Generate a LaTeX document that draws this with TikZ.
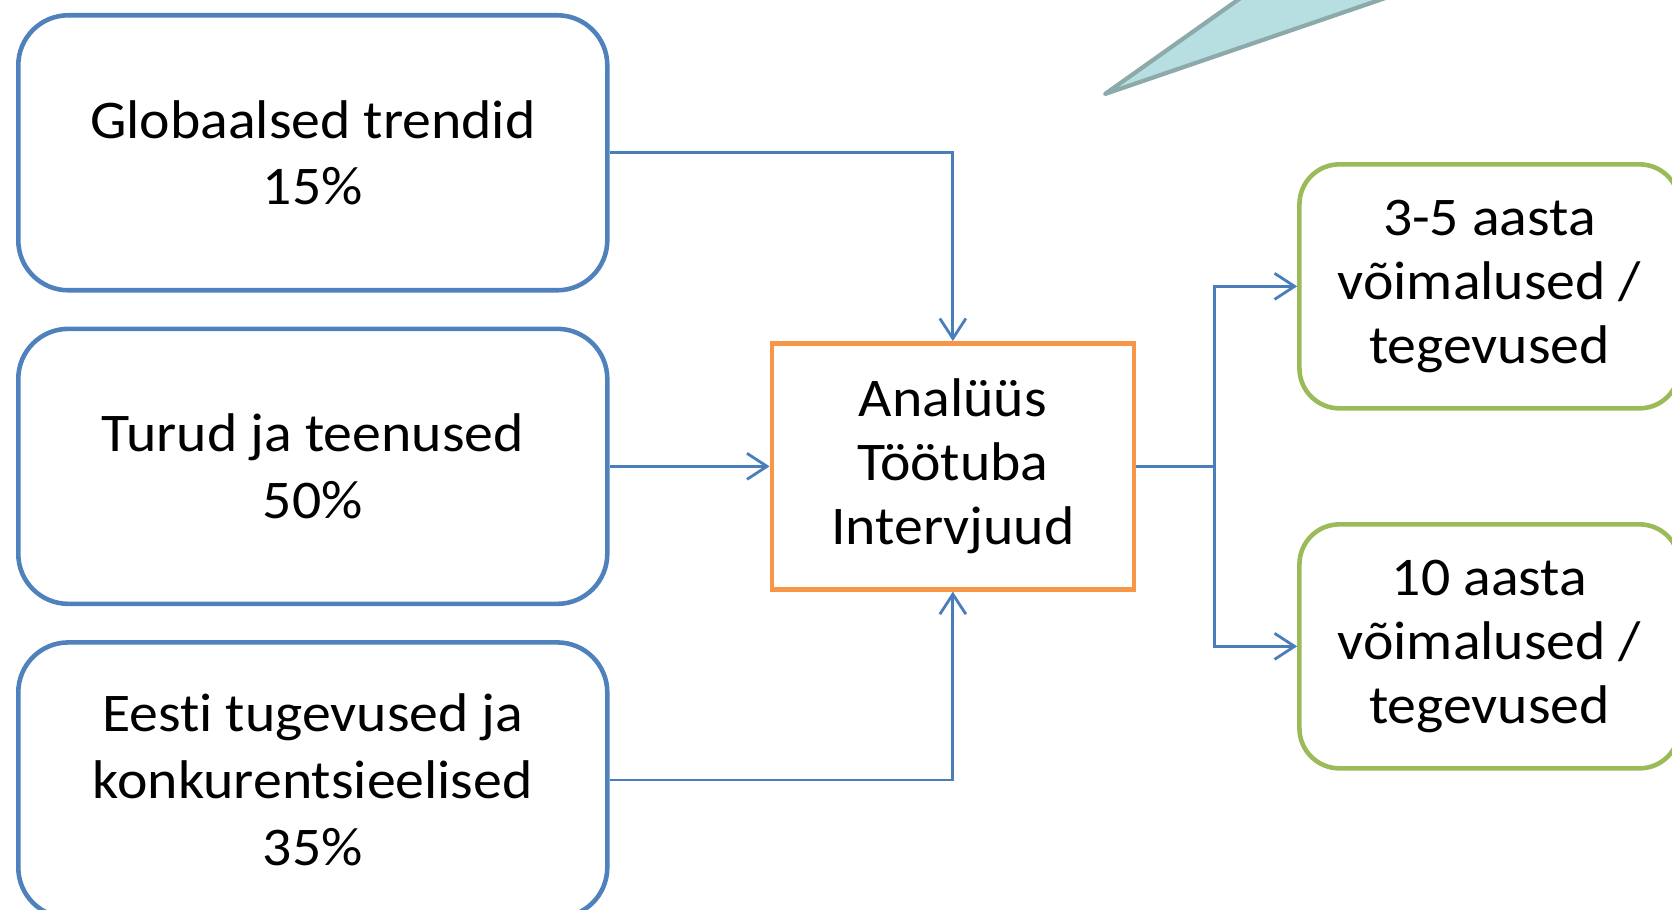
\documentclass[tikz,border=0pt]{standalone}
\usepackage{fontspec}
\setmainfont{Carlito}[Ligatures=NoCommon, FakeStretch=1.06]
\usepackage{xcolor}
\usetikzlibrary{
  arrows.meta,
  positioning
}
\definecolor{inblue}{HTML}{4F81BD}
\definecolor{linkblue}{HTML}{4A7EBB}
\definecolor{huborange}{HTML}{F79646}
\definecolor{outgreen}{HTML}{9BBB59}
\definecolor{calloutfill}{HTML}{B7DEE1}
\definecolor{calloutline}{HTML}{8DAAAB}

\begin{document}
\begin{tikzpicture}[>={Straight Barb[length=2mm,width=2.6mm]},
  txt/.style={align=center, font=\fontsize{15.5}{18.3}\selectfont},
  inbox/.style={txt, font=\fontsize{15.5}{19}\selectfont, draw=inblue,
    line width=1.3pt, rounded corners=5mm,
    minimum width=5.89cm, minimum height=2.75cm},
  hub/.style={txt, draw=huborange, line width=1.3pt,
    minimum width=3.62cm, minimum height=2.46cm},
  outbox/.style={txt, draw=outgreen, line width=1.3pt, rounded corners=4mm,
    minimum width=3.8cm, minimum height=2.44cm},
  link/.style={draw=linkblue, line width=0.8pt}]
  \useasboundingbox (0,0) rectangle (16.72,9.09);
  % callout tip, cut by the top edge
  \begin{scope}
    \clip (0,0) rectangle (16.72,9.09);
    \draw [fill=calloutfill, draw=calloutline, line width=1.2pt, line join=round]
      (11.05,8.15) -- (12.66,9.29) -- (14.38,9.29) -- cycle;
  \end{scope}
  % inputs
  \node [inbox, anchor=north west] (glob) at (0.16,8.96) {Globaalsed trendid\\15\%};
  \node [inbox, below=0.34cm of glob] (turud) {Turud ja teenused\\50\%};
  \node [inbox, below=0.34cm of turud] (eesti) {Eesti tugevused ja\\konkurentsieelised\\35\%};
  % analysis
  \node [hub, right=1.6cm of turud] (analyys) {Analüüs\\Töötuba\\Intervjuud};
  % outputs
  \node [outbox, right=1.61cm of analyys, yshift=1.8cm] (lyhike) {3-5 aasta\\võimalused /\\tegevused};
  \node [outbox, right=1.61cm of analyys, yshift=-1.8cm] (pikk) {10 aasta\\võimalused /\\tegevused};
  \draw [link, ->] (glob.east) -| (analyys.north);
  \draw [link, ->] (turud) -- (analyys);
  \draw [link, ->] (eesti.east) -| (analyys.south);
  \draw [link] (analyys.east) -- ++(0.78,0) coordinate (haru);
  \draw [link, ->] (haru) |- (lyhike);
  \draw [link, ->] (haru) |- (pikk);
\end{tikzpicture}
\end{document}
